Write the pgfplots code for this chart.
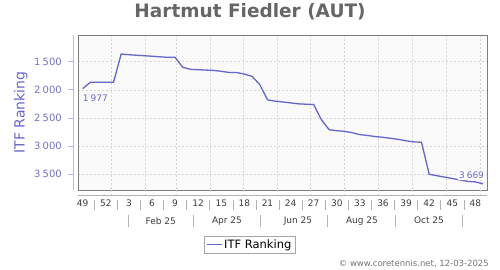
\documentclass[border=0pt]{standalone}
\usepackage{pgfplots}
\pgfplotsset{compat=1.18}
\usepackage{fontspec}
\setmainfont{DejaVu Sans}
\definecolor{lineblue}{RGB}{102,102,204}
\definecolor{labelblue}{RGB}{115,115,205}
\definecolor{yaxisline}{RGB}{185,185,228}
\definecolor{framegray}{RGB}{125,125,125}
\definecolor{bggray}{RGB}{250,250,250}
\definecolor{gridgray}{RGB}{215,215,215}
\definecolor{ticklab}{RGB}{60,60,60}
\definecolor{titlegray}{RGB}{102,102,102}
\begin{document}
\begin{tikzpicture}[x=1pt,y=1pt]
\useasboundingbox (0,0) rectangle (500,270);
\begin{axis}[
  at={(78.3pt,80pt)}, anchor=south west,
  width=409pt, height=155pt, scale only axis,
  xmin=-0.57, xmax=52.55, ymin=1025, ymax=3779, y dir=reverse,
  axis background/.style={fill=bggray},
  axis line style={framegray, line width=0.8pt},
  xtick={3.71,8.13,12.21,16.53,20.86,25.27,29.61,33.97,38.38,42.8,47.18,51.6},
  xticklabels={},
  extra x ticks={0,3,6,9,12,15,18,21,24,27,30,33,36,39,42,45,48,51},
  extra x tick labels={49,52,3,6,9,12,15,18,21,24,27,30,33,36,39,42,45,48},
  extra x tick style={grid=none, tick label style={font=\fontsize{9}{11}\selectfont, text=ticklab, yshift=-6.5pt}},
  ytick={1500,2000,2500,3000,3500},
  yticklabel style={font=\fontsize{10}{12}\selectfont, text=labelblue, xshift=-13pt},
  /pgf/number format/.cd, 1000 sep={\kern0.22em}, assume math mode=true, /pgfplots/.cd,
  major tick length=0pt,
  grid=major,
  major grid style={gridgray, dash pattern=on 2pt off 2pt, line width=0.5pt},
  clip=false,
  ylabel={ITF Ranking},
  ylabel style={at={(axis description cs:-0.1408,0.5)}, anchor=center, font=\fontsize{14}{16}\selectfont, text=lineblue},
  title={Hartmut Fiedler (AUT)},
  title style={at={(axis description cs:0.4198,1.142)}, anchor=center, yshift=-4.5pt, font=\bfseries\fontsize{18.5}{21}\selectfont, text=titlegray},
  legend style={at={(axis description cs:0.419,-0.295)}, anchor=north, draw=gray!70, font=\fontsize{11.5}{14}\selectfont, inner sep=1.5pt},
  legend image code/.code={\draw[#1] (0pt,0pt) -- (15pt,0pt);},
]
\addplot[lineblue, line width=1.3pt] coordinates {
(0,1977) (1,1865) (2,1865) (3,1865) (4,1865) (5,1363) (6,1375) (7,1385) (8,1394)
(9,1402) (10,1412) (11,1422) (12,1422) (13,1600) (14,1635) (15,1642) (16,1648)
(17,1655) (18,1670) (19,1690) (20,1692) (21,1720) (22,1760) (23,1906) (24,2177)
(25,2200) (26,2215) (27,2231) (28,2248) (29,2255) (30,2261) (31,2530) (32,2707)
(33,2725) (34,2737) (35,2760) (36,2796) (37,2810) (38,2830) (39,2843) (40,2860)
(41,2880) (42,2905) (43,2924) (44,2930) (45,3500) (46,3525) (47,3550) (48,3575)
(49,3600) (50,3626) (51,3635) (52,3669)
};
\addlegendentry{ITF Ranking}
\node[text=lineblue, font=\fontsize{9}{11}\selectfont] at (axis cs:1.64,2149) {1\kern0.22em977};
\node[fill=white, inner sep=1pt, text=lineblue, font=\fontsize{9}{11}\selectfont] at (axis cs:50.5,3525) {3\kern0.22em669};
\end{axis}
% offset y axis line and ticks
\draw[yaxisline, line width=0.8pt] (73.3,235) -- (73.3,80);
\foreach \yy in {208.3,180.7,151.7,124,95.7} \draw[yaxisline, line width=0.8pt] (68,\yy) -- (73.3,\yy);
% offset x axis line
\draw[gray!60, line width=0.8pt] (78.3,75) -- (487.3,75);
\foreach \xx in {111.3,145.3,176.7,210,243.3,277.3,310.7,344.3,378.3,412.3,446,480}
  \draw[gridgray, dash pattern=on 2pt off 2pt, line width=0.5pt] (\xx,80) -- (\xx,75);
% week label separators
\foreach \k in {0,...,16} \draw[gray!60, line width=0.6pt] ({94.25+23.1*\k},70) -- ({94.25+23.1*\k},60);
% month separators and labels
\foreach \xx in {128.3,193.3,260.7,327.3,395.3,462} \draw[gray!60, line width=0.6pt] (\xx,55) -- (\xx,43);
\foreach \xx/\lab in {160.7/Feb 25,227/Apr 25,298/Jun 25,362/Aug 25,429/Oct 25}
  \node[font=\fontsize{9}{11}\selectfont, text=ticklab] at (\xx,49.3) {\lab};
\node[anchor=east, font=\fontsize{8.5}{10}\selectfont, text=gray!90!black, inner sep=0pt] at (489,6.7) {© www.coretennis.net, 12-03-2025};
\end{tikzpicture}
\end{document}
